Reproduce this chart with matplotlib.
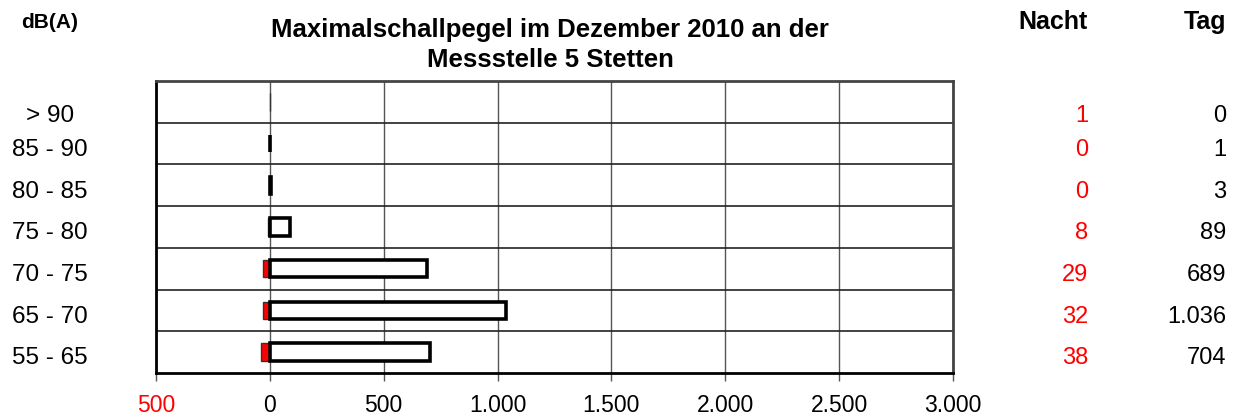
import matplotlib
matplotlib.use("Agg")
import matplotlib.pyplot as plt
import matplotlib.transforms as mtransforms

plt.rcParams['font.family'] = ['Liberation Sans', 'DejaVu Sans']

categories = ["55 - 65", "65 - 70", "70 - 75", "75 - 80", "80 - 85", "85 - 90", "> 90"]
nacht = [38, 32, 29, 8, 0, 0, 1]
tag = [704, 1036, 689, 89, 3, 1, 0]
xticks = [-500, 0, 500, 1000, 1500, 2000, 2500, 3000]
title = "Maximalschallpegel im Dezember 2010 an der\nMessstelle 5 Stetten"


def de(v):
    return f"{abs(v):,}".replace(",", ".")


W, H = 1239, 419
fig = plt.figure(figsize=(W / 100, H / 100), dpi=100)
ax = fig.add_axes([156 / W, 1 - 373 / H, (953 - 156) / W, (373 - 81) / H])

y = list(range(len(categories)))
ax.barh(y, [-n for n in nacht], height=0.42, color='red', edgecolor='#333333',
        linewidth=[1.0 if n > 0 else 0 for n in nacht], zorder=3)
ax.barh(y, tag, height=0.42, color='white', edgecolor='black',
        linewidth=[2.6 if t > 0 else 0 for t in tag], zorder=4)

ax.set_xlim(-500, 3000)
ax.set_ylim(-0.5, len(categories) - 0.5)
ax.set_xticks(xticks)
ax.set_xticklabels([de(v) for v in xticks], fontsize=16.5)
for lbl, v in zip(ax.get_xticklabels(), xticks):
    lbl.set_color('red' if v < 0 else 'black')
ax.tick_params(axis='x', length=6, width=1, pad=9, color='#555555')
ax.set_yticks([])
ax.set_yticks([i + 0.5 for i in range(len(categories) - 1)], minor=True)
ax.tick_params(axis='y', which='minor', length=0)
ax.grid(axis='x', which='major', color='#555555', linewidth=1.0, zorder=1)
ax.grid(axis='y', which='minor', color='#222222', linewidth=1.2, zorder=1)
ax.set_axisbelow(True)
for s in ['left', 'bottom']:
    ax.spines[s].set_linewidth(2.0)
    ax.spines[s].set_color('black')
for s in ['top', 'right']:
    ax.spines[s].set_linewidth(2.0)
    ax.spines[s].set_color('#444444')

tr = mtransforms.blended_transform_factory(fig.transFigure, ax.transData)
n = len(categories)
for i, (c, nv, tv) in enumerate(zip(categories, nacht, tag)):
    yy = i - 0.15 if i < n - 1 else i - 0.33
    fig.text(50 / W, yy, c, transform=tr, ha='center', va='center', fontsize=17.5)
    fig.text(1088 / W, yy, de(nv), transform=tr, ha='right', va='center', fontsize=17, color='red')
    fig.text(1226 / W, yy, de(tv), transform=tr, ha='right', va='center', fontsize=17, color='black')

fig.text(550 / W, 1 - 45 / H, title, ha='center', va='center', fontsize=18.5,
         fontweight='bold', linespacing=1.35)
fig.text(50 / W, 1 - 23 / H, "dB(A)", ha='center', va='center', fontsize=15, fontweight='bold')
fig.text(1088 / W, 1 - 22 / H, "Nacht", ha='right', va='center', fontsize=18, fontweight='bold')
fig.text(1226 / W, 1 - 22 / H, "Tag", ha='right', va='center', fontsize=18, fontweight='bold')

fig.savefig("out.png", dpi=100)
